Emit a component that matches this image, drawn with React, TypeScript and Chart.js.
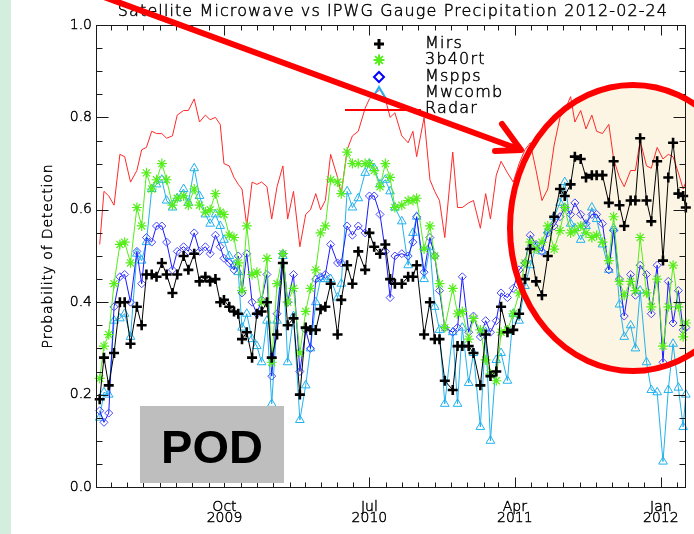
import React, { useEffect, useRef } from 'react';
import { Chart, registerables } from 'chart.js';

Chart.register(...registerables);

// ---------------- data ----------------
const DAY = 86400000;
const dayZero = Date.UTC(2009, 1, 1);

// sample dates, days after 2009-02-01
const sampleDay = [
  7, 15, 24, 34, 45, 54, 65, 77, 86, 95, 105, 114, 124, 133, 144, 153, 165, 174, 185, 195,
  206, 215, 225, 234, 241, 251, 260, 268, 275, 284, 294, 303, 312, 322, 331, 341, 352, 361, 372, 384,
  395, 404, 414, 423, 432, 442, 455, 462, 473, 483, 494, 507, 515, 524, 535, 545, 554, 563, 576, 588,
  597, 604, 618, 629, 638, 647, 657, 672, 681, 690, 702, 711, 724, 734, 743, 754, 763, 775, 786, 797,
  808, 818, 829, 840, 851, 863, 874, 883, 894, 902, 913, 923, 934, 943, 954, 966, 975, 986, 995, 1007,
  1016, 1025, 1037, 1046, 1057, 1068, 1078, 1087, 1097, 1106, 1111,
];

const mirs = [
  0.19, 0.28, 0.22, 0.29, 0.40, 0.40, 0.31, 0.39, 0.35, 0.46, 0.46, 0.455, 0.485, 0.46, 0.42, 0.46, 0.50, 0.47, 0.505, 0.445,
  0.455, 0.445, 0.45, 0.40, 0.405, 0.39, 0.38, 0.375, 0.32, 0.335, 0.28, 0.375, 0.38, 0.40, 0.28, 0.33, 0.485, 0.35, 0.365, 0.20,
  0.345, 0.34, 0.34, 0.385, 0.39, 0.44, 0.33, 0.405, 0.48, 0.44, 0.51, 0.47, 0.55, 0.52, 0.505, 0.525, 0.45, 0.44, 0.44, 0.455,
  0.455, 0.48, 0.33, 0.40, 0.32, 0.32, 0.23, 0.21, 0.305, 0.305, 0.305, 0.29, 0.22, 0.33, 0.24, 0.25, 0.39, 0.335, 0.34, 0.375,
  0.45, 0.515, 0.445, 0.415, 0.50, 0.585, 0.645, 0.63, 0.655, 0.715, 0.71, 0.67, 0.675, 0.675, 0.675, 0.615, 0.705, 0.61, 0.565, 0.62,
  0.62, 0.755, 0.62, 0.575, 0.705, 0.49, 0.67, 0.745, 0.635, 0.63, 0.605,
];

const b40rt = [
  0.235, 0.305, 0.33, 0.44, 0.525, 0.53, 0.485, 0.605, 0.565, 0.68, 0.645, 0.665, 0.70, 0.665, 0.61, 0.625, 0.63, 0.61, 0.645, 0.61,
  0.595, 0.60, 0.635, 0.595, 0.59, 0.545, 0.54, 0.485, 0.425, 0.565, 0.46, 0.465, 0.40, 0.495, 0.27, 0.44, 0.505, 0.40, 0.43, 0.29,
  0.38, 0.43, 0.47, 0.55, 0.565, 0.665, 0.66, 0.635, 0.725, 0.70, 0.70, 0.70, 0.70, 0.685, 0.65, 0.70, 0.67, 0.605, 0.61, 0.62,
  0.62, 0.625, 0.515, 0.565, 0.50, 0.44, 0.345, 0.43, 0.375, 0.38, 0.32, 0.365, 0.34, 0.275, 0.245, 0.23, 0.335, 0.34, 0.375, 0.42,
  0.485, 0.53, 0.515, 0.53, 0.565, 0.515, 0.555, 0.605, 0.55, 0.555, 0.565, 0.55, 0.54, 0.545, 0.53, 0.49, 0.585, 0.445, 0.415, 0.445,
  0.425, 0.54, 0.42, 0.39, 0.45, 0.305, 0.39, 0.48, 0.39, 0.325, 0.355,
];

const mspps = [
  0.165, 0.14, 0.16, 0.39, 0.455, 0.46, 0.40, 0.51, 0.44, 0.54, 0.53, 0.565, 0.565, 0.53, 0.47, 0.51, 0.52, 0.51, 0.55, 0.51,
  0.52, 0.505, 0.545, 0.52, 0.495, 0.485, 0.47, 0.50, 0.42, 0.505, 0.40, 0.375, 0.405, 0.46, 0.24, 0.375, 0.505, 0.40, 0.46, 0.25,
  0.34, 0.30, 0.45, 0.455, 0.46, 0.525, 0.485, 0.485, 0.565, 0.545, 0.565, 0.55, 0.63, 0.63, 0.59, 0.51, 0.41, 0.50, 0.505, 0.50,
  0.53, 0.585, 0.465, 0.54, 0.50, 0.425, 0.345, 0.335, 0.345, 0.455, 0.335, 0.37, 0.325, 0.36, 0.335, 0.36, 0.42, 0.41, 0.43, 0.47,
  0.485, 0.545, 0.525, 0.51, 0.55, 0.565, 0.585, 0.605, 0.59, 0.615, 0.59, 0.57, 0.59, 0.59, 0.57, 0.47, 0.555, 0.45, 0.37, 0.46,
  0.415, 0.48, 0.46, 0.375, 0.48, 0.27, 0.445, 0.355, 0.425, 0.34, 0.345,
];

const mwcomb = [
  0.15, 0.205, 0.20, 0.36, 0.365, 0.375, 0.325, 0.505, 0.49, 0.53, 0.645, 0.655, 0.665, 0.62, 0.605, 0.625, 0.645, 0.615, 0.69, 0.63,
  0.59, 0.57, 0.59, 0.565, 0.535, 0.50, 0.48, 0.465, 0.345, 0.375, 0.32, 0.305, 0.27, 0.36, 0.18, 0.36, 0.50, 0.27, 0.37, 0.145,
  0.22, 0.30, 0.40, 0.45, 0.45, 0.45, 0.41, 0.44, 0.64, 0.605, 0.625, 0.68, 0.70, 0.69, 0.655, 0.665, 0.64, 0.605, 0.575, 0.48,
  0.55, 0.585, 0.45, 0.52, 0.39, 0.34, 0.18, 0.335, 0.18, 0.345, 0.225, 0.29, 0.13, 0.335, 0.10, 0.275, 0.29, 0.23, 0.375, 0.36,
  0.435, 0.48, 0.52, 0.51, 0.555, 0.585, 0.615, 0.66, 0.57, 0.56, 0.535, 0.565, 0.605, 0.58, 0.525, 0.47, 0.56, 0.395, 0.325, 0.35,
  0.30, 0.425, 0.27, 0.21, 0.205, 0.055, 0.21, 0.31, 0.215, 0.13, 0.20,
];

const radar = [
  0.525, 0.64, 0.63, 0.61, 0.72, 0.715, 0.66, 0.685, 0.73, 0.735, 0.77, 0.765, 0.765, 0.755, 0.76, 0.805, 0.815, 0.815, 0.84, 0.79,
  0.805, 0.795, 0.80, 0.785, 0.70, 0.695, 0.67, 0.655, 0.645, 0.565, 0.66, 0.655, 0.66, 0.65, 0.58, 0.65, 0.695, 0.58, 0.64, 0.52,
  0.59, 0.60, 0.635, 0.60, 0.62, 0.72, 0.67, 0.635, 0.73, 0.76, 0.77, 0.82, 0.84, 0.85, 0.86, 0.84, 0.80, 0.81, 0.76, 0.745,
  0.77, 0.715, 0.80, 0.665, 0.64, 0.62, 0.54, 0.725, 0.605, 0.605, 0.615, 0.62, 0.56, 0.635, 0.58, 0.675, 0.705, 0.68, 0.66, 0.70,
  0.73, 0.745, 0.685, 0.62, 0.645, 0.74, 0.80, 0.815, 0.845, 0.79, 0.815, 0.775, 0.805, 0.77, 0.765, 0.785, 0.71, 0.67, 0.65, 0.685,
  0.685, 0.75, 0.695, 0.69, 0.735, 0.71, 0.72, 0.715, 0.68, 0.645, 0.66,
];

const seriesNames = ['Mirs', '3b40rt', 'Mspps', 'Mwcomb', 'Radar'];
const titleText = 'Satellite Microwave vs IPWG Gauge Precipitation 2012-02-24';
const yTitle = 'Probability of Detection';
const stampText = 'POD';

const xStart = Date.UTC(2009, 1, 1);
const xEnd = Date.UTC(2012, 1, 17);
const xLabelMonths = [
  { year: 2009, month: 9, label: ['Oct', '2009'] },
  { year: 2010, month: 6, label: ['Jul', '2010'] },
  { year: 2011, month: 3, label: ['Apr', '2011'] },
  { year: 2012, month: 0, label: ['Jan', '2012'] },
];
const yLabels = [0, 0.2, 0.4, 0.6, 0.8, 1.0];

// ---------------- styles ----------------
const W = 694;
const H = 534;
const FONT = '"DejaVu Sans", "Liberation Sans", sans-serif';
const INK = '#000000';
const TEXT_STROKE = 0.45;
const C_MIRS = '#000000';
const C_B40 = '#55ee1a';
const C_MSPPS = '#1a1aff';
const C_MSPPS_PT = '#4a4aff';
const C_MWC = '#22b2ee';
const C_RADAR = '#ff2a2a';

const dates = sampleDay.map((d) => dayZero + d * DAY);
const toPts = (arr: number[]) => arr.map((v, i) => ({ x: dates[i], y: v }));

const monthTickValues: number[] = [];
for (let y = 2009, m = 2; y < 2012 || (y === 2012 && m <= 1); ) {
  monthTickValues.push(Date.UTC(y, m, 1));
  m++;
  if (m > 11) { m = 0; y++; }
}
const majorValues = xLabelMonths.map((t) => Date.UTC(t.year, t.month, 1));

const drawText = (ctx: CanvasRenderingContext2D, s: string, x: number, y: number) => {
  ctx.strokeStyle = INK;
  ctx.lineWidth = TEXT_STROKE;
  ctx.strokeText(s, x, y);
  ctx.fillText(s, x, y);
};

const decoPlugin = {
  id: 'deco',
  beforeDraw(chart: any) {
    const ctx = chart.ctx;
    ctx.save();
    ctx.fillStyle = '#ffffff';
    ctx.fillRect(0, 0, W, H);
    ctx.fillStyle = '#d4eedd';
    ctx.fillRect(0, 0, 11, H);
    ctx.restore();
  },
  beforeDatasetsDraw(chart: any) {
    const ctx = chart.ctx;
    ctx.save();
    ctx.fillStyle = '#fdf5e3';
    ctx.beginPath();
    ctx.ellipse(633, 228, 123, 143, 0, 0, Math.PI * 2);
    ctx.fill();
    ctx.restore();
  },
  afterDatasetsDraw(chart: any) {
    const { ctx, chartArea: a, scales } = chart;
    const xs = scales.x;
    const ys = scales.y;
    ctx.save();
    ctx.strokeStyle = '#1a1a1a';
    ctx.lineWidth = 1;
    const L = Math.round(a.left) + 0.5;
    const R = Math.round(a.right) - 0.5;
    const T = Math.round(a.top) + 0.5;
    const B = Math.round(a.bottom) + 0.5;
    ctx.strokeRect(L, T, R - L, B - T);
    ctx.beginPath();
    monthTickValues.forEach((v) => {
      const px = Math.round(xs.getPixelForValue(v)) + 0.5;
      const len = majorValues.includes(v) ? 10 : 5;
      ctx.moveTo(px, B);
      ctx.lineTo(px, B - len);
      ctx.moveTo(px, T);
      ctx.lineTo(px, T + len);
    });
    for (let k = 1; k < 20; k++) {
      const v = k * 0.05;
      const py = Math.round(ys.getPixelForValue(v)) + 0.5;
      const len = k % 4 === 0 ? 12 : 6;
      ctx.moveTo(L, py);
      ctx.lineTo(L + len, py);
      ctx.moveTo(R, py);
      ctx.lineTo(R - len, py);
    }
    ctx.stroke();
    ctx.restore();
  },
  afterDraw(chart: any) {
    const ctx = chart.ctx;
    ctx.save();
    // ellipse outline
    ctx.strokeStyle = '#ff0000';
    ctx.lineWidth = 6;
    ctx.beginPath();
    ctx.ellipse(633, 228, 123, 143, 0, 0, Math.PI * 2);
    ctx.stroke();

    // title
    ctx.fillStyle = INK;
    ctx.font = `200 16px ${FONT}`;
    ctx.textAlign = 'center';
    ctx.textBaseline = 'middle';
    (ctx as any).letterSpacing = '1.1px';
    drawText(ctx, titleText, 393, 12);

    // y title
    ctx.save();
    ctx.translate(48, 256);
    ctx.rotate(-Math.PI / 2);
    ctx.font = `200 14px ${FONT}`;
    (ctx as any).letterSpacing = '0.85px';
    drawText(ctx, yTitle, 0, 0);
    ctx.restore();

    // legend
    const lx = 379;
    const tx = 425;
    const rows = [44, 60, 77, 93, 109];
    ctx.textAlign = 'left';
    ctx.font = `200 16px ${FONT}`;
    (ctx as any).letterSpacing = '1.2px';
    seriesNames.forEach((n, i) => {
      ctx.fillStyle = INK;
      drawText(ctx, n, tx, rows[i]);
    });
    (ctx as any).letterSpacing = '0px';
    // Mirs plus
    ctx.lineWidth = 3;
    ctx.strokeStyle = C_MIRS;
    ctx.beginPath();
    ctx.moveTo(lx - 5, rows[0]); ctx.lineTo(lx + 5, rows[0]);
    ctx.moveTo(lx, rows[0] - 5); ctx.lineTo(lx, rows[0] + 5);
    ctx.stroke();
    // 3b40rt asterisk
    ctx.strokeStyle = C_B40;
    ctx.lineWidth = 2;
    ctx.beginPath();
    for (let k = 0; k < 4; k++) {
      const ang = (k * Math.PI) / 4;
      const dx = Math.cos(ang) * 5.5, dy = Math.sin(ang) * 5.5;
      ctx.moveTo(lx - dx, rows[1] - dy); ctx.lineTo(lx + dx, rows[1] + dy);
    }
    ctx.stroke();
    // Mspps diamond
    ctx.strokeStyle = '#0000ff';
    ctx.lineWidth = 2;
    ctx.beginPath();
    ctx.moveTo(lx, rows[2] - 5); ctx.lineTo(lx + 5, rows[2]); ctx.lineTo(lx, rows[2] + 5); ctx.lineTo(lx - 5, rows[2]); ctx.closePath();
    ctx.stroke();
    // Mwcomb triangle
    ctx.strokeStyle = C_MWC;
    ctx.beginPath();
    ctx.moveTo(lx, rows[3] - 6); ctx.lineTo(lx + 6, rows[3] + 4); ctx.lineTo(lx - 6, rows[3] + 4); ctx.closePath();
    ctx.stroke();
    // Radar line
    ctx.strokeStyle = '#ff0000';
    ctx.lineWidth = 2;
    ctx.beginPath();
    ctx.moveTo(345, rows[4] + 1); ctx.lineTo(421, rows[4] + 1);
    ctx.stroke();

    // POD stamp
    ctx.fillStyle = '#bebebe';
    ctx.fillRect(140, 406, 144, 77);
    ctx.fillStyle = '#000000';
    ctx.font = `bold 47px "Liberation Sans", Arial, sans-serif`;
    ctx.textAlign = 'center';
    ctx.textBaseline = 'alphabetic';
    ctx.fillText(stampText, 212, 463);

    // arrow
    ctx.strokeStyle = '#ff0000';
    ctx.lineWidth = 6;
    ctx.lineCap = 'round';
    ctx.lineJoin = 'round';
    ctx.beginPath();
    ctx.moveTo(104, -3);
    ctx.lineTo(521, 150);
    ctx.moveTo(495, 151);
    ctx.lineTo(521, 150);
    ctx.lineTo(502, 124);
    ctx.stroke();
    ctx.restore();
  },
};

export default function App() {
  const ref = useRef<HTMLCanvasElement>(null);
  useEffect(() => {
    if (!ref.current) return;
    const ds = (label: string, data: number[], color: string, extra: any) => ({
      label,
      data: toPts(data),
      borderColor: color,
      backgroundColor: 'rgba(0,0,0,0)',
      borderWidth: 1,
      pointBorderColor: color,
      pointBackgroundColor: 'rgba(0,0,0,0)',
      pointHoverRadius: 0,
      tension: 0,
      clip: false,
      ...extra,
    });
    const chart = new Chart(ref.current, {
      type: 'line',
      data: {
        datasets: [
          ds(seriesNames[0], mirs, C_MIRS, { pointStyle: 'cross', pointRadius: 5, pointBorderWidth: 2.6 }),
          ds(seriesNames[1], b40rt, C_B40, { pointStyle: 'star', pointRadius: 5, pointBorderWidth: 1.2 }),
          ds(seriesNames[2], mspps, C_MSPPS, { pointStyle: 'rectRot', pointRadius: 4, pointBorderWidth: 1, pointBorderColor: C_MSPPS_PT }),
          ds(seriesNames[3], mwcomb, C_MWC, { pointStyle: 'triangle', pointRadius: 5, pointBorderWidth: 1 }),
          ds(seriesNames[4], radar, C_RADAR, { pointRadius: 0 }),
        ],
      },
      options: {
        responsive: false,
        animation: false,
        events: [],
        devicePixelRatio: 1,
        layout: { padding: { left: 0, right: 4, top: 25, bottom: 0 } },
        plugins: { legend: { display: false }, title: { display: false }, tooltip: { enabled: false } },
        scales: {
          x: {
            type: 'linear',
            min: xStart,
            max: xEnd,
            grid: { display: false, drawTicks: false },
            border: { display: false },
            afterFit: (s: any) => { s.height = 47; },
            afterBuildTicks: (s: any) => { s.ticks = majorValues.map((v) => ({ value: v })); },
            ticks: {
              autoSkip: false,
              maxRotation: 0,
              padding: 15,
              color: INK,
              textStrokeColor: INK,
              textStrokeWidth: TEXT_STROKE,
              font: { family: FONT, size: 14, weight: '200', lineHeight: 0.8 },
              callback: (v: any) => {
                const i = majorValues.indexOf(v);
                return i >= 0 ? xLabelMonths[i].label : '';
              },
            },
          },
          y: {
            min: 0,
            max: 1,
            grid: { display: false, drawTicks: false },
            border: { display: false },
            afterFit: (s: any) => { s.width = 96; },
            afterBuildTicks: (s: any) => { s.ticks = yLabels.map((v) => ({ value: v })); },
            ticks: {
              padding: 4,
              color: INK,
              textStrokeColor: INK,
              textStrokeWidth: TEXT_STROKE,
              font: { family: FONT, size: 14, weight: '200' },
              callback: (v: any) => Number(v).toFixed(1),
            },
          },
        },
      },
      plugins: [decoPlugin],
    } as any);
    return () => chart.destroy();
  }, []);
  return (
    <div style={{ position: 'fixed', left: 0, top: 0, width: W, height: H, background: '#fff' }}>
      <canvas ref={ref} width={W} height={H} style={{ display: 'block', width: W, height: H }} />
    </div>
  );
}
